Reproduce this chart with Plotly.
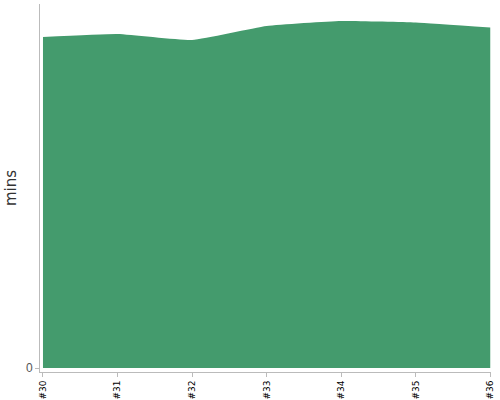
import plotly.graph_objects as go

categories = ["#30", "#31", "#32", "#33", "#34", "#35", "#36"]
mins = [33.1, 33.4, 32.8, 34.2, 34.7, 34.55, 34.05]

fig = go.Figure()
fig.add_trace(go.Scatter(
    x=list(range(len(categories))), y=mins,
    mode="lines", fill="tozeroy",
    line=dict(color="#449b6d", width=0, shape="spline", smoothing=0.4),
    fillcolor="#449b6d", hoverinfo="skip",
))
fig.update_layout(
    width=500, height=400,
    margin=dict(l=40, r=9, t=4, b=28),
    plot_bgcolor="white", paper_bgcolor="white",
    showlegend=False,
    font=dict(family="DejaVu Sans, sans-serif", color="#333"),
)
fig.update_xaxes(
    range=[-0.04, 6.01], tickmode="array",
    tickvals=list(range(len(categories))), ticktext=categories,
    tickangle=-90, tickfont=dict(size=9, color="#000"),
    showgrid=False, zeroline=False, showline=True, linecolor="#bbb", linewidth=1,
    ticks="outside", ticklen=4, tickcolor="#bbb", automargin=False,
)
fig.update_yaxes(
    range=[-0.4, 36.4], tickmode="array", tickvals=[0], ticktext=["0"],
    tickfont=dict(family="Liberation Sans, Arial, sans-serif", size=12, color="#555"),
    title=dict(text="mins", font=dict(size=15, color="#333"), standoff=5),
    showgrid=False, zeroline=False, showline=True, linecolor="#bbb", linewidth=1,
    ticks="outside", ticklen=4, tickcolor="#bbb", automargin=False,
)
fig.write_html("out.html", config={"displayModeBar": False},
               post_script="document.body.style.margin='0';document.body.style.overflow='hidden';")
